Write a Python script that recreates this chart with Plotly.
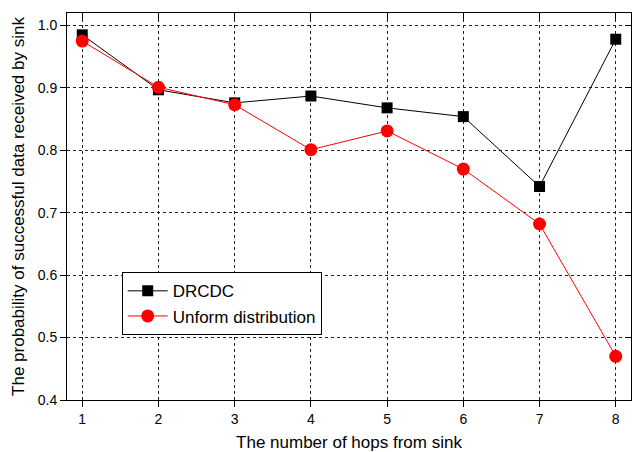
import plotly.graph_objects as go

# Hop count from the sink
hops = [1, 2, 3, 4, 5, 6, 7, 8]

# Probability of successful delivery to the sink
drcdc = [0.985, 0.897, 0.876, 0.887, 0.868, 0.854, 0.742, 0.978]
uniform = [0.975, 0.901, 0.873, 0.801, 0.831, 0.770, 0.682, 0.470]

y_ticks = [0.4, 0.5, 0.6, 0.7, 0.8, 0.9, 1.0]

FONT = "Liberation Sans, Arial, sans-serif"

fig = go.Figure()
fig.add_trace(go.Scatter(
    x=hops, y=drcdc, name="DRCDC", mode="lines+markers",
    line=dict(color="black", width=1),
    marker=dict(symbol="square", size=11, color="black"),
))
fig.add_trace(go.Scatter(
    x=hops, y=uniform, name="Unform distribution", mode="lines+markers",
    line=dict(color="red", width=1),
    marker=dict(symbol="circle", size=13, color="red"),
))

x_range = [0.8, 8.2]
y_range = [0.4, 1.02]

fig.update_layout(
    width=632, height=452,
    margin=dict(l=67, r=1, t=13, b=52),
    paper_bgcolor="white", plot_bgcolor="white",
    font=dict(family=FONT, color="black", size=14),
    showlegend=True,
    legend=dict(
        x=0.097, y=0.33, xanchor="left", yanchor="top",
        bgcolor="white", bordercolor="black", borderwidth=1,
        font=dict(family=FONT, size=17, color="black"),
        tracegroupgap=0, itemwidth=40,
    ),
    xaxis=dict(
        range=x_range, tickvals=hops, showline=True, linecolor="black", linewidth=1,
        ticks="outside", ticklen=6, tickcolor="black",
        showgrid=True, gridcolor="#222", griddash="3px,3px", gridwidth=1,
        zeroline=False,
        title=dict(text="The number of hops from sink", font=dict(size=17), standoff=10),
    ),
    yaxis=dict(
        range=y_range, tickvals=y_ticks, tickformat=".1f",
        showline=True, linecolor="black", linewidth=1,
        ticks="outside", ticklen=6, tickcolor="black",
        showgrid=True, gridcolor="#222", griddash="3px,3px", gridwidth=1,
        zeroline=False,
        title=dict(text="The probability of successful data received by sink",
                   font=dict(size=17), standoff=8),
    ),
    # mirrored frame with inward ticks on top and right
    xaxis2=dict(
        range=x_range, tickvals=hops, overlaying="x", side="top",
        showline=True, linecolor="black", linewidth=1,
        ticks="inside", ticklen=6, tickcolor="black",
        showticklabels=False, showgrid=False, zeroline=False,
    ),
    yaxis2=dict(
        range=y_range, tickvals=y_ticks, overlaying="y", side="right",
        showline=True, linecolor="black", linewidth=1,
        ticks="inside", ticklen=6, tickcolor="black",
        showticklabels=False, showgrid=False, zeroline=False,
    ),
)

# invisible trace to activate the mirrored axes
fig.add_trace(go.Scatter(x=[hops[0]], y=[drcdc[0]], xaxis="x2", yaxis="y2",
                         mode="markers", marker=dict(opacity=0),
                         showlegend=False, hoverinfo="skip"))

fig.write_html("out.html")
